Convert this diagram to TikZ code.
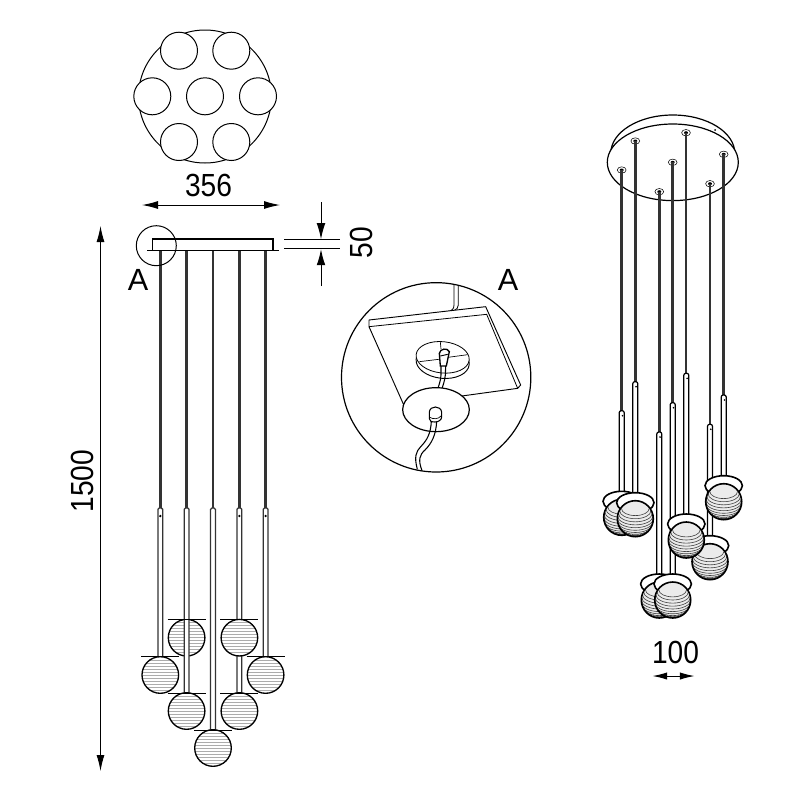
\documentclass[tikz,border=0pt]{standalone}
\usepackage{fontspec}
\setmainfont{Liberation Sans}
\newfontfamily\dimfont[FakeStretch=0.88]{Liberation Sans}
\usetikzlibrary{arrows.meta}
\definecolor{rodcol}{gray}{0.2}
\tikzset{
  ln/.style={line width=0.75pt,black},
  rod/.style={line width=1.9pt,rodcol},
  dim/.style={line width=0.75pt,black,{Latex[length=12pt,width=6pt]}-{Latex[length=12pt,width=6pt]}},
  dimr/.style={line width=0.75pt,black,-{Latex[length=12pt,width=6.5pt]}},
  dimtext/.style={inner sep=0pt,font=\dimfont\fontsize{24pt}{24pt}\selectfont},
  ltr/.style={inner sep=0pt,font=\fontsize{23pt}{23pt}\selectfont},
  ball/.style={line width=1pt,black},
  stripe/.style={line width=0.6pt,gray!65},
  arcs/.style={line width=0.45pt,black!75},
}
% front view: tube
\newcommand{\ftube}[3]{%
  \fill[white,rounded corners=1pt] (#1-2.4,#2) rectangle (#1+2.4,#3);
  \draw[line width=0.95pt,rodcol,rounded corners=1pt] (#1-2.4,#3) -- (#1-2.4,#2) -- (#1+2.4,#2) -- (#1+2.4,#3);}
% front view: striped ball
\newcommand{\fball}[2]{%
  \fill[white] (#1,#2) circle[radius=18.3];
  \begin{scope}
    \clip (#1,#2) circle[radius=18.3];
    \foreach \d in {-15,-12,...,18}{\draw[stripe] (#1-19,#2+\d) -- (#1+19,#2+\d);}
  \end{scope}
  \draw[ball] (#1,#2) circle[radius=18.3];}
% perspective view: tube with hood and ball
\newcommand{\isotube}[3]{%
  \fill[white,rounded corners=1.5pt] (#1-2.5,#2) rectangle (#1+2.5,#3);
  \draw[line width=0.9pt,black,rounded corners=1.5pt] (#1-2.5,#3) -- (#1-2.5,#2) -- (#1+2.5,#2) -- (#1+2.5,#3);
  \fill[black] (#1+0.8,#2+5) circle[radius=0.9];}
\newcommand{\iball}[2]{%
  \draw[line width=1.2pt,fill=white] (#1,#2-16) ellipse[x radius=18.7,y radius=10];
  \fill[gray!16] (#1,#2) circle[radius=18];
  \begin{scope}
    \clip (#1,#2) circle[radius=18];
    \foreach \p in {-80,-70,-60,-50,-40,-30,-20,-10,0,10,20,30,40}{
      \pgfmathsetmacro{\rx}{18*cos(\p)}
      \pgfmathsetmacro{\ry}{9*cos(\p)}
      \pgfmathsetmacro{\cy}{-15.6*sin(\p)}
      \draw[arcs] (#1-\rx,#2+\cy) arc[start angle=180,end angle=0,x radius=\rx,y radius=\ry];
    }
  \end{scope}
  \draw[line width=1.2pt,black] (#1,#2) circle[radius=18];}
\newcommand{\ihole}[1]{%
  \draw[line width=0.4pt] (#1) ellipse[x radius=4.4,y radius=3.2];
  \fill[black] (#1) ellipse[x radius=2,y radius=1.5];}
\begin{document}
\begin{tikzpicture}[x=0.75pt,y=-0.75pt]
\useasboundingbox[fill=white] (0,0) rectangle (800,800);

%% ---------- top view
\draw[ln] (205,96.5) circle[radius=66.5];
\foreach \nm/\cx/\cy in {a/179/50.7,b/231.3/50.7,c/152.3/96.3,d/205/96.3,e/258/96.3,f/179/142,g/231.3/142}{
  \draw[ln,fill=white] (\cx,\cy) circle[radius=18.5];
}
\node[dimtext] (t356) at (208.5,185) {356};
\coordinate (w1) at (142,205); \coordinate (w2) at (280,205);
\draw[dim] (w1) -- (w2);

%% ---------- front view
\foreach \x in {160.3,186.6,213,239.4,265.6}{\draw[rod] (\x,251) -- (\x,510);}
\fball{186.6}{637.7}
\ftube{160.3}{508}{656.5}
\ftube{186.6}{508}{693}
\ftube{213}{508}{730}
\ftube{239.4}{508}{693}
\ftube{265.6}{508}{656.5}
\foreach \x in {160.3,239.4,265.6}{\fill[black] (\x,516) circle[radius=1.3];}
\fball{160.3}{675}
\fball{239.4}{637.7}
\fball{265.6}{675}
\fball{186.6}{711}
\fball{239.4}{711}
\fball{213}{748}
\foreach \x/\y in {186.6/619.7,239.4/619.7,160.3/656.5,265.6/656.5,186.6/693,239.4/693,213/730}{
  \draw[ln] (\x-19,\y) -- (\x+19,\y);
}
\draw[line width=0.9pt] (152.7,250.7) -- (152.7,239) -- (273,239) -- (273,250.7);
\draw[line width=0.9pt] (147,250.7) -- (279,250.7);
\draw[ln] (156.3,245.7) circle[radius=20];
\node[ltr] (la) at (138,280) {A};

% 50 dimension
\draw[ln] (284,239.7) -- (340,239.7);
\draw[ln] (284,248.7) -- (340,248.7);
\coordinate (h1) at (321,202); \coordinate (h2) at (321,239.2);
\coordinate (h3) at (321,286); \coordinate (h4) at (321,249.2);
\draw[dimr] (h1) -- (h2);
\draw[dimr] (h3) -- (h4);
\node[dimtext,rotate=90] (t50) at (361,242.5) {50};

% 1500 dimension
\coordinate (v1) at (100.5,226); \coordinate (v2) at (100.5,771);
\draw[dim] (v1) -- (v2);
\node[dimtext,rotate=90] (t1500) at (82,481) {1500};

%% ---------- detail A
\node[ltr] (lb) at (508,280) {A};
\begin{scope}[shift={(330,260)},x=0.25pt,y=-0.25pt]
  \begin{scope}
    \clip (318.5,352) circle[radius=284];
    % cord from the ceiling
    \draw[line width=0.6pt] (372,60) -- (372,135) .. controls (372,147) and (366,151) .. (355,155);
    \draw[line width=0.6pt] (385,60) -- (385,135) .. controls (385,143) and (380,148) .. (372,152);
    % plate
    \draw[line width=0.7pt,fill=white,line join=round] (117,180) -- (467,140) -- (572,375) -- (563,385) -- (220,432) -- (117,200) -- cycle;
    \draw[line width=0.6pt] (117,200) -- (470,163) -- (563,385);
    % recess
    \draw[line width=0.7pt,fill=white] (338,306) ellipse[x radius=80,y radius=49,rotate=-6];
    \draw[line width=0.6pt,fill=white] (338,292) ellipse[x radius=80,y radius=47,rotate=-6];
    \draw[line width=0.5pt] (268,305) -- (334,297);
    \draw[line width=0.5pt] (354,292) -- (413,284);
    \draw[line width=0.5pt] (331,246) -- (333,267);
    % small connector and its cord
    \draw[line width=1pt,fill=white] (331,318) -- (328,280) .. controls (330,266) and (352,262) .. (358,275) -- (349,318) -- cycle;
    \draw[line width=0.7pt] (331,288) -- (353,283);
    \draw[line width=0.8pt] (333,318) -- (333,345) .. controls (332,365) and (326,375) .. (322,392);
    \draw[line width=0.8pt] (347,318) -- (346,345) .. controls (344,365) and (338,378) .. (334,392);
    % cover disc
    \draw[line width=0.9pt,fill=white] (318,449) ellipse[x radius=100,y radius=66];
    % lower cord
    \draw[line width=0.8pt] (304,484) .. controls (302,520) and (292,540) .. (272,560) .. controls (258,575) and (252,590) .. (262,628);
    \draw[line width=0.8pt] (320,484) .. controls (318,525) and (305,550) .. (285,570) .. controls (268,585) and (264,600) .. (276,632);
    % cap connector
    \draw[line width=0.8pt,fill=white] (298,476) -- (298,456) .. controls (300,436) and (332,436) .. (335,456) -- (335,470) .. controls (335,480) and (325,486) .. (315,486) .. controls (305,486) and (298,484) .. (298,476) -- cycle;
    \draw[line width=0.5pt] (300,472) .. controls (308,478) and (325,478) .. (333,468);
  \end{scope}
  \draw[line width=0.9pt] (318.5,352) circle[radius=284];
\end{scope}

%% ---------- perspective view
\draw[line width=0.9pt] (672.8,153.3) ellipse[x radius=62,y radius=38.3];
\draw[line width=0.9pt,fill=white] (672.8,162.3) ellipse[x radius=65.5,y radius=38.3];
\fill[black] (715,130) circle[radius=1];
\foreach \hx/\hy in {621.7/170,635.3/141,659.3/191.7,672.7/162.3,686/132.7,710/183.7,723.7/154.3}{
  \ihole{\hx,\hy}
}
\foreach \rx/\ry/\rz in {621.7/170/412,635.3/141/383,659.3/191.7/433,672.7/162.3/404,686/132.7/375,710/183.7/426,723.7/154.3/397}{
  \draw[rod] (\rx,\ry) -- (\rx,\rz);
}
\isotube{621.7}{410.7}{495}
\isotube{635.3}{381.7}{495}
\iball{621.7}{517.3}
\iball{635.3}{518.7}
\isotube{659.3}{432}{575}
\isotube{672.7}{402.7}{578}
\iball{659.3}{600}
\iball{672.7}{600}
\isotube{710}{424.3}{540}
\isotube{723.7}{395}{480}
\iball{710}{561.7}
\isotube{686.3}{373.3}{520}
\iball{723.7}{501.7}
\iball{686.3}{540}

\node[dimtext] (t100) at (675.5,652) {100};
\coordinate (c1) at (652.5,676); \coordinate (c2) at (694.5,676);
\draw[line width=0.75pt,{Latex[length=11pt,width=5.5pt]}-{Latex[length=11pt,width=5.5pt]}] (c1) -- (c2);
\end{tikzpicture}
\end{document}
